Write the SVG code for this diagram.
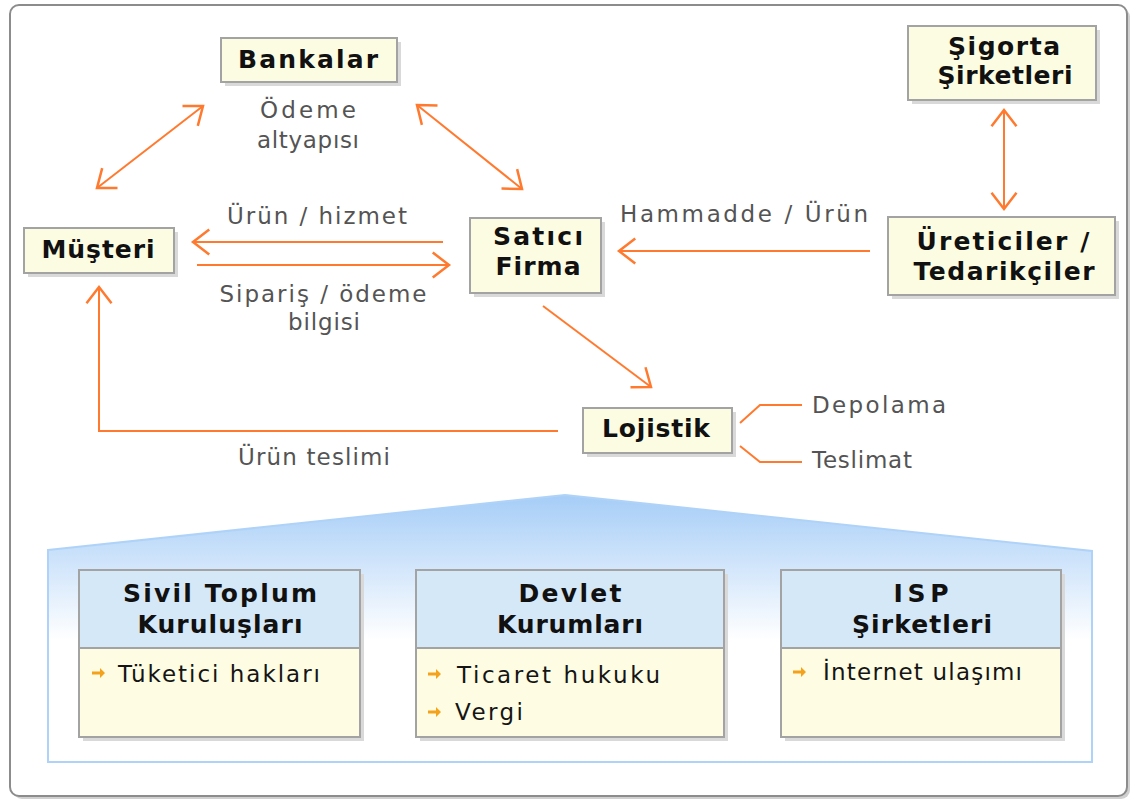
<svg xmlns="http://www.w3.org/2000/svg" width="1134" height="801" viewBox="0 0 1134 801">
<style>
.frame{fill:#fff;stroke:#8c8c8c;stroke-width:2}
.node{fill:#fcfce2;stroke:#a3a3a3;stroke-width:2}
.shadow{fill:#d9d9d9}
.hdr{fill:#d5e8f7;stroke:#a3a3a3;stroke-width:2}
.body{fill:#fefde3;stroke:#a3a3a3;stroke-width:2}
.b{font-family:"DejaVu Sans","Liberation Sans",sans-serif;font-weight:bold;font-size:25px;fill:#111}
.l{font-family:"DejaVu Sans","Liberation Sans",sans-serif;font-size:23px;fill:#545454}
.i{font-family:"DejaVu Sans","Liberation Sans",sans-serif;font-size:23px;fill:#151515}
.c{fill:none;stroke:#ff7a2e;stroke-width:2}
.blt{fill:#f4a21c}
</style>
<defs>
<marker id="ah" markerUnits="userSpaceOnUse" markerWidth="30" markerHeight="30" viewBox="-16 -12 18 24" refX="0" refY="0" orient="auto-start-reverse">
<path d="M-13,-10 L0,0 L-13,10" fill="none" stroke="#ff7a2e" stroke-width="2"/>
</marker>
<linearGradient id="pg" x1="0" y1="495" x2="0" y2="640" gradientUnits="userSpaceOnUse">
<stop offset="0" stop-color="#a6cdf7"/>
<stop offset="1" stop-color="#ffffff"/>
</linearGradient>
<path id="bul" d="M0,-1.5 H8 V-5 L13,0 L8,5 V1.5 H0 Z"/>
</defs>

<rect x="13" y="8" width="1117" height="791" rx="9" fill="#d0d0d0"/>
<rect class="frame" x="10" y="5" width="1117" height="791" rx="9"/>

<g id="connectors">
<line class="c" x1="97" y1="188" x2="203" y2="106" marker-start="url(#ah)" marker-end="url(#ah)"/>
<line class="c" x1="417" y1="105" x2="522" y2="189" marker-start="url(#ah)" marker-end="url(#ah)"/>
<line class="c" x1="443" y1="242" x2="193" y2="242" marker-end="url(#ah)"/>
<line class="c" x1="197" y1="265" x2="449" y2="265" marker-end="url(#ah)"/>
<line class="c" x1="870" y1="251" x2="619" y2="251" marker-end="url(#ah)"/>
<line class="c" x1="1004" y1="110" x2="1004" y2="209" marker-start="url(#ah)" marker-end="url(#ah)"/>
<line class="c" x1="543" y1="306" x2="651" y2="387" marker-end="url(#ah)"/>
<polyline class="c" points="558,431 99,431 99,287" marker-end="url(#ah)"/>
<polyline class="c" points="740,423 760,405 802,405"/>
<polyline class="c" points="740,446 760,462 802,462"/>
<text class="l" x="308" y="118" text-anchor="middle" textLength="96">Ödeme</text>
<text class="l" x="308" y="148" text-anchor="middle" textLength="102">altyapısı</text>
<text class="l" x="317" y="224" text-anchor="middle" textLength="180">Ürün / hizmet</text>
<text class="l" x="323" y="302" text-anchor="middle" textLength="207">Sipariş / ödeme</text>
<text class="l" x="324" y="330" text-anchor="middle" textLength="72">bilgisi</text>
<text class="l" x="744" y="222" text-anchor="middle" textLength="248">Hammadde / Ürün</text>
<text class="l" x="314" y="465" text-anchor="middle" textLength="152">Ürün teslimi</text>
<text class="l" x="812" y="413" textLength="134">Depolama</text>
<text class="l" x="812" y="468" textLength="100">Teslimat</text>
</g>

<g id="bankalar">
<rect class="shadow" x="225" y="42" width="176" height="44"/>
<rect class="node" x="221" y="38" width="176" height="44"/>
<text class="b" x="308" y="68" text-anchor="middle" textLength="140">Bankalar</text>
</g>
<g id="musteri">
<rect class="shadow" x="28" y="232" width="150" height="45"/>
<rect class="node" x="24" y="228" width="150" height="45"/>
<text class="b" x="98" y="258" text-anchor="middle" textLength="113">Müşteri</text>
</g>
<g id="satici">
<rect class="shadow" x="474" y="222" width="131" height="75"/>
<rect class="node" x="470" y="218" width="131" height="75"/>
<text class="b" x="538" y="245" text-anchor="middle" textLength="90">Satıcı</text>
<text class="b" x="538" y="275" text-anchor="middle" textLength="85">Firma</text>
</g>
<g id="sigorta">
<rect class="shadow" x="912" y="30" width="188" height="74"/>
<rect class="node" x="908" y="26" width="188" height="74"/>
<text class="b" x="1004" y="55" text-anchor="middle" textLength="112">Şigorta</text>
<text class="b" x="1005" y="84" text-anchor="middle" textLength="135">Şirketleri</text>
</g>
<g id="ureticiler">
<rect class="shadow" x="892" y="221" width="227" height="78"/>
<rect class="node" x="888" y="217" width="227" height="78"/>
<text class="b" x="1003" y="250" text-anchor="middle" textLength="173">Üreticiler /</text>
<text class="b" x="1004" y="280" text-anchor="middle" textLength="181">Tedarikçiler</text>
</g>
<g id="lojistik">
<rect class="shadow" x="587" y="412" width="149" height="45"/>
<rect class="node" x="583" y="408" width="149" height="45"/>
<text class="b" x="656" y="437" text-anchor="middle" textLength="108">Lojistik</text>
</g>

<g id="panel">
<polygon points="48,550 565,495 1092,551 1092,762 48,762" fill="url(#pg)" stroke="#afd3f8" stroke-width="2"/>
</g>

<g id="sivil">
<rect class="shadow" x="83" y="574" width="281" height="167"/>
<rect class="body" x="79" y="570" width="281" height="167"/>
<rect class="hdr" x="79" y="570" width="281" height="78"/>
<text class="b" x="220" y="602" text-anchor="middle" textLength="194">Sivil Toplum</text>
<text class="b" x="220" y="633" text-anchor="middle" textLength="165">Kuruluşları</text>
<use href="#bul" class="blt" x="92" y="673"/>
<text class="i" x="118" y="682" textLength="202">Tüketici hakları</text>
</g>
<g id="devlet">
<rect class="shadow" x="420" y="574" width="308" height="167"/>
<rect class="body" x="416" y="570" width="308" height="167"/>
<rect class="hdr" x="416" y="570" width="308" height="78"/>
<text class="b" x="570" y="602" text-anchor="middle" textLength="103">Devlet</text>
<text class="b" x="570" y="633" text-anchor="middle" textLength="146">Kurumları</text>
<use href="#bul" class="blt" x="428" y="674"/>
<text class="i" x="457" y="683" textLength="203">Ticaret hukuku</text>
<use href="#bul" class="blt" x="428" y="712"/>
<text class="i" x="455" y="720" textLength="68">Vergi</text>
</g>
<g id="isp">
<rect class="shadow" x="785" y="574" width="280" height="167"/>
<rect class="body" x="781" y="570" width="280" height="167"/>
<rect class="hdr" x="781" y="570" width="280" height="78"/>
<text class="b" x="921" y="602" text-anchor="middle" textLength="55">ISP</text>
<text class="b" x="922" y="633" text-anchor="middle" textLength="140">Şirketleri</text>
<use href="#bul" class="blt" x="793" y="672"/>
<text class="i" x="823" y="680" textLength="199">İnternet ulaşımı</text>
</g>
</svg>
